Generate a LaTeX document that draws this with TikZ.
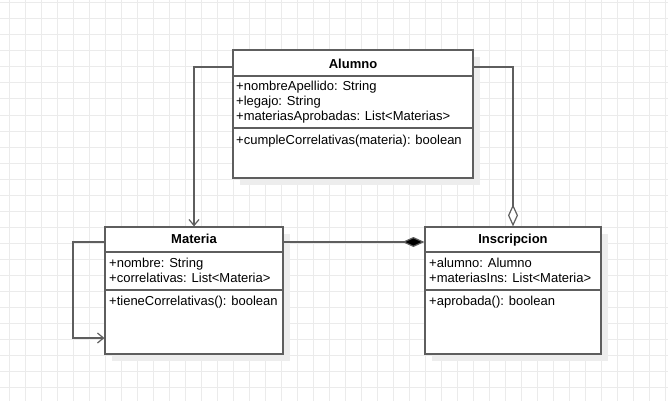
\documentclass[tikz,border=0pt]{standalone}
\usepackage{fontspec}
\setmainfont{Liberation Sans}
\usetikzlibrary{arrows.meta,calc,shadows}
\definecolor{gridcol}{HTML}{EBEBEB}
\definecolor{edgecol}{HTML}{5E5E5E}
\definecolor{shadecol}{HTML}{EDEDED}
\begin{document}
\begin{tikzpicture}[x=1pt,y=-1pt,
  gridline/.style={draw=gridcol, line width=1pt},
  classbox/.style={draw=edgecol, line width=1.2pt, fill=white, inner sep=0pt,
    general shadow={fill=shadecol, shadow xshift=7pt, shadow yshift=-7pt}},
  sepline/.style={draw=edgecol, line width=1.2pt},
  title/.style={font=\fontsize{13}{15}\selectfont\bfseries, inner sep=0pt, anchor=base},
  member/.style={font=\fontsize{13}{15}\selectfont, inner sep=0pt, anchor=base west},
  conn/.style={draw=edgecol, line width=1.2pt},
  assoc/.style={conn, -{Straight Barb[length=6pt 0,width=10pt 0]}},
  aggr/.style={conn, -{Diamond[open,fill=white,length=22pt 0,width=10pt 0]}},
  comp/.style={conn, -{Diamond[fill=black,length=22pt 0,width=10pt 0]}}
]
% canvas and background grid
\fill[white] (0,0) rectangle (668,401);
\useasboundingbox (0,0) rectangle (668,401);
\foreach \gx in {9,25,...,665} \draw[gridline] (\gx,0) -- (\gx,401);
\foreach \gy in {3,19,...,399} \draw[gridline] (0,\gy) -- (668,\gy);

% class boxes
\node[classbox, minimum width=240pt, minimum height=128pt] (alumno) at (353,114) {};
\node[classbox, minimum width=178pt, minimum height=127pt] (materia) at (194,290.5) {};
\node[classbox, minimum width=176pt, minimum height=127pt] (inscripcion) at (513,290.5) {};

% compartments
\draw[sepline] (alumno.west |- 0,76) -- (alumno.east |- 0,76);
\draw[sepline] (alumno.west |- 0,128) -- (alumno.east |- 0,128);
\draw[sepline] (materia.west |- 0,252) -- (materia.east |- 0,252);
\draw[sepline] (materia.west |- 0,290) -- (materia.east |- 0,290);
\draw[sepline] (inscripcion.west |- 0,252) -- (inscripcion.east |- 0,252);
\draw[sepline] (inscripcion.west |- 0,290) -- (inscripcion.east |- 0,290);

% Alumno
\node[title] (alumnoT) at (353,68.5) {Alumno};
\node[member] (alumnoA1) at (236,90.5) {+nombreApellido: String};
\node[member] (alumnoA2) at (236,105.5) {+legajo: String};
\node[member] (alumnoA3) at (236,120.5) {+materiasAprobadas: List<Materias>};
\node[member] (alumnoM1) at (236,144.5) {+cumpleCorrelativas(materia): boolean};

% Materia
\node[title] (materiaT) at (194,243.5) {Materia};
\node[member] (materiaA1) at (109,267.5) {+nombre: String};
\node[member] (materiaA2) at (109,282.5) {+correlativas: List<Materia>};
\node[member] (materiaM1) at (109,305.5) {+tieneCorrelativas(): boolean};

% Inscripcion
\node[title] (inscripcionT) at (513,243.5) {Inscripcion};
\node[member] (inscripcionA1) at (429,267.5) {+alumno: Alumno};
\node[member] (inscripcionA2) at (429,282.5) {+materiasIns: List<Materia>};
\node[member] (inscripcionM1) at (429,305.5) {+aprobada(): boolean};

% relations
\draw[assoc] (alumno.west |- 0,67) -| (materia.north);
\draw[aggr] (alumno.east |- 0,67) -| (inscripcion.north);
\draw[comp] (materia.east |- 0,242) -- (inscripcion.west |- 0,242);
\coordinate (loopTop) at (73,242);
\coordinate (loopBot) at (73,338);
\draw[assoc] (materia.west |- loopTop) -- (loopTop) -- (loopBot) -- (materia.west |- loopBot);
\end{tikzpicture}
\end{document}
